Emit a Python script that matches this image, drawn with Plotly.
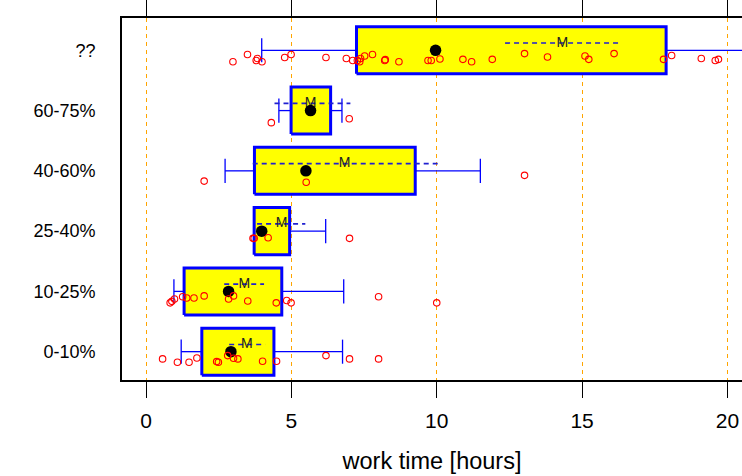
import plotly.graph_objects as go

# ---------------- data ----------------
categories = ["0-10%", "10-25%", "25-40%", "40-60%", "60-75%", "??"]
q1 = [1.92, 1.31, 3.72, 3.73, 4.99, 7.24]
q3 = [4.40, 4.67, 4.94, 9.26, 6.35, 17.89]
whisk_lo = [1.21, 0.96, 3.72, 2.72, 4.57, 3.98]
whisk_hi = [6.76, 6.80, 6.18, 11.50, 6.74, 21.50]
means = [2.92, 2.84, 3.98, 5.50, 5.66, 9.96]
medians = [3.47, 3.38, 4.66, 6.83, 5.66, 14.32]
notch_lo = [2.86, 2.69, 3.82, 3.67, 4.42, 12.35]
notch_hi = [4.10, 4.06, 5.48, 10.10, 7.03, 16.33]

points_0_10 = [0.57, 1.08, 1.48, 1.75, 2.43, 2.49, 2.81, 3.01, 3.16, 4.01, 4.49, 6.19, 7.00, 8.00]
jitter_0_10 = [0.12, 0.175, 0.175, 0.105, 0.165, 0.175, 0.065, 0.11, 0.12, 0.16, 0.16, 0.065, 0.12, 0.12]
points_10_25 = [0.83, 0.89, 0.98, 1.26, 1.40, 1.65, 2.00, 2.84, 3.01, 3.50, 4.48, 4.84, 4.99, 8.00, 10.0]
jitter_10_25 = [0.19, 0.165, 0.125, 0.09, 0.11, 0.11, 0.075, 0.125, 0.075, 0.16, 0.19, 0.15, 0.19, 0.09, 0.19]
points_25_40 = [3.68, 3.72, 4.20, 7.00]
jitter_25_40 = [0.12, 0.12, 0.11, 0.12]
points_40_60 = [2.00, 5.51, 13.02]
jitter_40_60 = [0.17, 0.19, 0.075]
points_60_75 = [4.31, 6.99]
jitter_60_75 = [0.20, 0.135]
points_unk = [2.99, 3.49, 3.79, 3.83, 3.99, 4.77, 4.99, 6.19, 6.89, 7.11, 7.27, 7.35, 7.38,
              7.52, 7.79, 8.21, 8.23, 8.70, 9.70, 9.81, 10.11, 10.90, 11.20, 11.91, 13.02,
              13.81, 15.10, 15.23, 16.10, 17.80, 18.08, 19.10, 19.58, 19.69]
jitter_unk = [0.19, 0.07, 0.17, 0.135, 0.19, 0.12, 0.07, 0.12, 0.135, 0.17, 0.17, 0.19, 0.135,
              0.095, 0.07, 0.17, 0.155, 0.19, 0.17, 0.17, 0.145, 0.15, 0.19, 0.15, 0.055,
              0.11, 0.095, 0.15, 0.055, 0.15, 0.085, 0.135, 0.17, 0.15]

points = [points_0_10, points_10_25, points_25_40, points_40_60, points_60_75, points_unk]
jitters = [jitter_0_10, jitter_10_25, jitter_25_40, jitter_40_60, jitter_60_75, jitter_unk]

x_ticks = [0, 5, 10, 15, 20]

# ---------------- style ----------------
FONT = "Liberation Sans, Arial, Helvetica, sans-serif"
HALF_H = 0.39
CAP_H = 0.2
NOTCH_OFF = 0.12

fig = go.Figure()

for k, cat in enumerate(categories):
    # box
    fig.add_trace(go.Scatter(
        x=[q1[k], q3[k], q3[k], q1[k], q1[k]],
        y=[k - HALF_H, k - HALF_H, k + HALF_H, k + HALF_H, k - HALF_H],
        mode="lines", fill="toself", fillcolor="#FFFF00",
        line=dict(color="#0000FF", width=3), hoverinfo="skip", showlegend=False))
    # whiskers + caps
    wx = [whisk_lo[k], q1[k], None, q3[k], whisk_hi[k], None,
          whisk_lo[k], whisk_lo[k], None, whisk_hi[k], whisk_hi[k]]
    wy = [k, k, None, k, k, None,
          k - CAP_H, k + CAP_H, None, k - CAP_H, k + CAP_H]
    fig.add_trace(go.Scatter(x=wx, y=wy, mode="lines",
                             line=dict(color="#0000FF", width=1.3),
                             hoverinfo="skip", showlegend=False))
    # median notch dashed line
    fig.add_trace(go.Scatter(
        x=[notch_lo[k], notch_hi[k]], y=[k + NOTCH_OFF, k + NOTCH_OFF],
        mode="lines", line=dict(color="#2020D0", width=1.6, dash="5px,4px"),
        hoverinfo="skip", showlegend=False))
    fig.add_trace(go.Scatter(
        x=[medians[k]], y=[k + NOTCH_OFF], mode="text", text=["M"],
        textposition="middle center",
        textfont=dict(family=FONT, size=14, color="#222222"),
        hoverinfo="skip", showlegend=False))
    # mean dot
    fig.add_trace(go.Scatter(
        x=[means[k]], y=[k], mode="markers",
        marker=dict(color="black", size=11.5, symbol="circle"),
        hoverinfo="skip", showlegend=False))
    # data points
    fig.add_trace(go.Scatter(
        x=points[k], y=[k - j for j in jitters[k]], mode="markers",
        marker=dict(symbol="circle-open", color="#FF0000", size=6.5,
                    line=dict(width=1.1, color="#FF0000")),
        hoverinfo="skip", showlegend=False, cliponaxis=True))

fig.update_layout(
    width=742, height=476,
    margin=dict(l=122, r=0, t=16, b=96),
    paper_bgcolor="white", plot_bgcolor="white",
    font=dict(family=FONT, size=20, color="black"),
    showlegend=False,
    xaxis=dict(
        range=[-0.826, 20.50], tickmode="array", tickvals=x_ticks,
        ticktext=[str(v) for v in x_ticks],
        showgrid=True, gridcolor="#FFA500", gridwidth=1, griddash="4px,4px",
        zeroline=False, showline=True, linecolor="black", linewidth=1.6,
        mirror="ticks", ticks="outside", ticklen=16, tickwidth=1.2, tickcolor="black",
        ticklabelstandoff=5,
        tickfont=dict(size=21),
        title=dict(text="work time [hours]", font=dict(size=23.5), standoff=22),
    ),
    yaxis=dict(
        range=[-0.47, 5.536], tickmode="array", tickvals=list(range(len(categories))),
        ticktext=categories, showgrid=False, zeroline=False,
        showline=True, linecolor="black", linewidth=1.6,
        ticks="", ticklabelstandoff=21, tickfont=dict(size=18),
    ),
)

fig.write_html("out.html")
